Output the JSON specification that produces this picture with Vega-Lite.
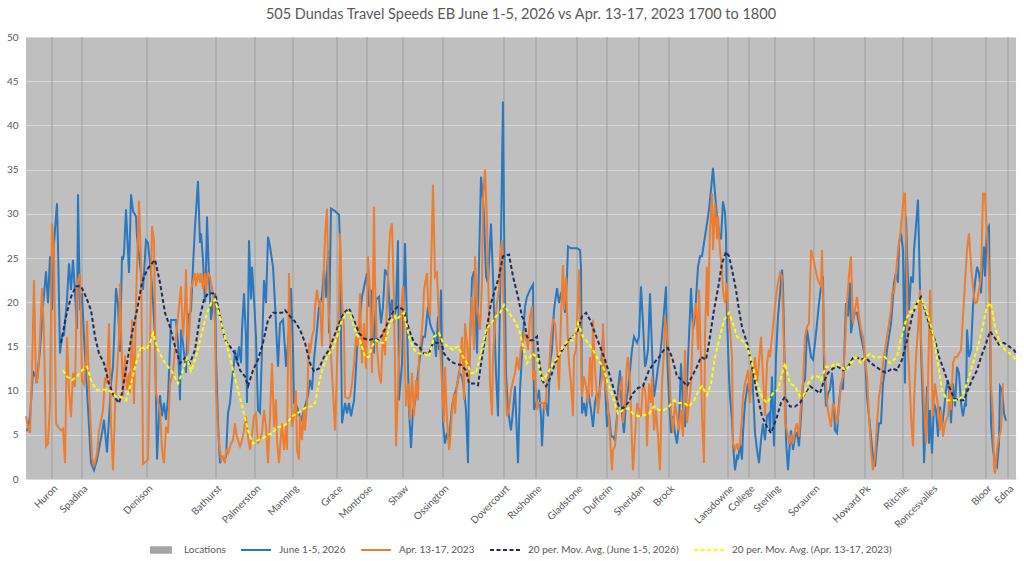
{
  "$schema": "https://vega.github.io/schema/vega-lite/v6.json",
  "width": 990,
  "height": 442,
  "autosize": {"type": "none"},
  "padding": {"left": 26, "top": 37, "right": 8, "bottom": 82},
  "background": "white",
  "title": {
    "text": "505 Dundas Travel Speeds EB June 1-5, 2026 vs Apr. 13-17, 2023 1700 to 1800",
    "font": "Lato", "fontSize": 14.5, "fontWeight": "normal", "color": "#595959",
    "anchor": "middle", "offset": 10
  },
  "config": {
    "font": "Lato",
    "view": {"fill": "#bfbfbf", "stroke": null},
    "axis": {"labelFont": "Lato", "labelColor": "#595959", "labelFontSize": 10}
  },
  "datasets": {
    "locations": [
      {"d": 26, "name": "Huron"}, {"d": 56, "name": "Spadina"}, {"d": 121, "name": "Denison"},
      {"d": 190, "name": "Bathurst"}, {"d": 229, "name": "Palmerston"}, {"d": 267, "name": "Manning"},
      {"d": 311, "name": "Grace"}, {"d": 341, "name": "Montrose"}, {"d": 377, "name": "Shaw"},
      {"d": 417, "name": "Ossington"}, {"d": 478, "name": "Dovercourt"}, {"d": 510, "name": "Rusholme"},
      {"d": 551, "name": "Gladstone"}, {"d": 581, "name": "Dufferin"}, {"d": 613, "name": "Sheridan"},
      {"d": 643, "name": "Brock"}, {"d": 702, "name": "Lansdowne"}, {"d": 723, "name": "College"},
      {"d": 749, "name": "Sterling"}, {"d": 788, "name": "Sorauren"}, {"d": 839, "name": "Howard Pk"},
      {"d": 877, "name": "Ritchie"}, {"d": 906, "name": "Roncesvalles"}, {"d": 960, "name": "Bloor"},
      {"d": 982, "name": "Edna"}
    ],
    "june": [
      {"d":1,"v":5.4},{"d":4,"v":7},{"d":7,"v":12.2},{"d":11,"v":11.2},{"d":14,"v":14.6},{"d":17,"v":19.5},{"d":20,"v":23.5},{"d":22,"v":19.9},{"d":24,"v":25.2},{"d":26,"v":19.1},{"d":28,"v":26.7},{"d":31,"v":31.2},{"d":32,"v":26.3},{"d":34,"v":14.2},{"d":36,"v":16.1},{"d":38,"v":16.3},{"d":41,"v":20.3},{"d":43,"v":24.4},{"d":45,"v":21.4},{"d":47,"v":24.8},{"d":49,"v":21},{"d":51,"v":17},{"d":52,"v":32.2},{"d":54,"v":19.1},{"d":56,"v":21},{"d":58,"v":16},{"d":60,"v":12},{"d":62,"v":8},{"d":65,"v":1.8},{"d":68,"v":1.0},{"d":71,"v":2.2},{"d":74,"v":4},{"d":76,"v":5.2},{"d":78,"v":6.7},{"d":81,"v":3.0},{"d":85,"v":10.8},{"d":87,"v":12.7},{"d":90,"v":21.6},{"d":92,"v":19.7},{"d":94,"v":14.4},{"d":96,"v":25.2},{"d":97,"v":24.8},{"d":98,"v":25.5},{"d":100,"v":30.5},{"d":103,"v":23.3},{"d":105,"v":32.2},{"d":107,"v":30.3},{"d":110,"v":29.7},{"d":111,"v":27.4},{"d":115,"v":23.3},{"d":117,"v":21.4},{"d":120,"v":27},{"d":122,"v":26.7},{"d":125,"v":23.3},{"d":127,"v":20},{"d":129,"v":16},{"d":131,"v":2.2},{"d":134,"v":9.5},{"d":136,"v":7.1},{"d":138,"v":8.6},{"d":140,"v":6.7},{"d":142,"v":9.1},{"d":145,"v":18},{"d":147,"v":18},{"d":150,"v":18},{"d":152,"v":15.4},{"d":154,"v":8.9},{"d":155,"v":16.9},{"d":157,"v":15.4},{"d":160,"v":12},{"d":162,"v":18.4},{"d":165,"v":19},{"d":167,"v":24},{"d":169,"v":28.6},{"d":172,"v":33.7},{"d":174,"v":26.7},{"d":175,"v":27.8},{"d":177,"v":24.8},{"d":179,"v":20},{"d":180,"v":23.7},{"d":181,"v":29.7},{"d":183,"v":22.9},{"d":185,"v":18},{"d":187,"v":19.9},{"d":189,"v":21},{"d":190,"v":13.8},{"d":192,"v":6.3},{"d":194,"v":1.8},{"d":196,"v":2.5},{"d":198,"v":2.2},{"d":200,"v":2.5},{"d":202,"v":7.4},{"d":204,"v":8.6},{"d":206,"v":11.2},{"d":208,"v":13.1},{"d":209,"v":14.6},{"d":211,"v":13.1},{"d":213,"v":15},{"d":215,"v":13.1},{"d":216,"v":16.9},{"d":218,"v":21},{"d":220,"v":16},{"d":221,"v":8.6},{"d":223,"v":27},{"d":225,"v":20.3},{"d":226,"v":24},{"d":228,"v":20.3},{"d":230,"v":16.1},{"d":232,"v":7.8},{"d":234,"v":7.5},{"d":236,"v":14.6},{"d":238,"v":22.5},{"d":240,"v":19.9},{"d":242,"v":27.4},{"d":244,"v":26.3},{"d":247,"v":24},{"d":249,"v":19.9},{"d":252,"v":12.7},{"d":254,"v":17.6},{"d":257,"v":18},{"d":259,"v":14.6},{"d":260,"v":12.7},{"d":263,"v":16.9},{"d":265,"v":21.6},{"d":267,"v":14.6},{"d":268,"v":8.6},{"d":271,"v":8.2},{"d":273,"v":7.4},{"d":275,"v":6.5},{"d":278,"v":7.8},{"d":280,"v":8.6},{"d":282,"v":9.5},{"d":284,"v":11.2},{"d":286,"v":10.1},{"d":288,"v":13.5},{"d":291,"v":16.9},{"d":293,"v":19.5},{"d":296,"v":20.6},{"d":298,"v":23.7},{"d":300,"v":20.5},{"d":302,"v":25.9},{"d":303,"v":16.5},{"d":305,"v":30.6},{"d":309,"v":30.3},{"d":313,"v":29.9},{"d":314,"v":26.7},{"d":316,"v":6.3},{"d":319,"v":8.6},{"d":321,"v":7.4},{"d":323,"v":8.6},{"d":325,"v":7.1},{"d":328,"v":8.9},{"d":329,"v":10.5},{"d":331,"v":14.6},{"d":333,"v":17.2},{"d":336,"v":20.6},{"d":339,"v":22.2},{"d":341,"v":23.3},{"d":343,"v":19.5},{"d":345,"v":21.4},{"d":348,"v":14.2},{"d":350,"v":20.3},{"d":353,"v":20.6},{"d":355,"v":17.6},{"d":357,"v":19.5},{"d":359,"v":23.7},{"d":362,"v":22.9},{"d":364,"v":18.4},{"d":366,"v":20.3},{"d":368,"v":17.6},{"d":370,"v":19.5},{"d":372,"v":27},{"d":373,"v":8.9},{"d":376,"v":13.1},{"d":379,"v":26.7},{"d":381,"v":17.6},{"d":383,"v":7.8},{"d":385,"v":3.5},{"d":387,"v":7.8},{"d":389,"v":8.6},{"d":392,"v":12},{"d":394,"v":13.8},{"d":397,"v":16.1},{"d":399,"v":16.1},{"d":402,"v":19.5},{"d":404,"v":17.6},{"d":406,"v":16.9},{"d":408,"v":16.5},{"d":410,"v":13.8},{"d":412,"v":18.4},{"d":413,"v":14.6},{"d":415,"v":21.4},{"d":417,"v":6.3},{"d":419,"v":4},{"d":421,"v":5.2},{"d":423,"v":4.4},{"d":426,"v":8.2},{"d":428,"v":9.3},{"d":431,"v":10.5},{"d":433,"v":12},{"d":436,"v":11.6},{"d":438,"v":10.1},{"d":440,"v":7.8},{"d":442,"v":1.8},{"d":443,"v":11.6},{"d":446,"v":22.7},{"d":448,"v":23.5},{"d":450,"v":17.6},{"d":451,"v":14.2},{"d":453,"v":24.4},{"d":455,"v":34.2},{"d":457,"v":31.6},{"d":458,"v":29.7},{"d":460,"v":22.9},{"d":462,"v":22.2},{"d":465,"v":28.9},{"d":467,"v":22.9},{"d":470,"v":12},{"d":472,"v":7.1},{"d":474,"v":20},{"d":477,"v":42.7},{"d":478,"v":28.9},{"d":480,"v":12},{"d":482,"v":7.8},{"d":485,"v":5.5},{"d":487,"v":7.8},{"d":489,"v":10.5},{"d":492,"v":1.8},{"d":494,"v":10.1},{"d":497,"v":16.1},{"d":499,"v":19.5},{"d":501,"v":20.6},{"d":504,"v":21.4},{"d":507,"v":22},{"d":508,"v":7.8},{"d":511,"v":8.9},{"d":513,"v":10.1},{"d":515,"v":7.1},{"d":516,"v":3.7},{"d":518,"v":8.6},{"d":520,"v":8.6},{"d":522,"v":7.1},{"d":524,"v":13.1},{"d":526,"v":14.6},{"d":528,"v":19.1},{"d":531,"v":21.6},{"d":533,"v":19.9},{"d":535,"v":21},{"d":537,"v":21.4},{"d":539,"v":18.8},{"d":541,"v":22.9},{"d":542,"v":26.3},{"d":545,"v":26.1},{"d":547,"v":26.1},{"d":551,"v":26.1},{"d":554,"v":25.9},{"d":555,"v":24},{"d":556,"v":7.4},{"d":558,"v":8.6},{"d":560,"v":7.1},{"d":562,"v":10.1},{"d":565,"v":7.8},{"d":567,"v":5.9},{"d":569,"v":8.6},{"d":571,"v":9.7},{"d":573,"v":8.9},{"d":575,"v":12.7},{"d":577,"v":16.1},{"d":579,"v":10.8},{"d":581,"v":5.9},{"d":583,"v":7.4},{"d":585,"v":4.8},{"d":587,"v":4.8},{"d":589,"v":4.4},{"d":591,"v":7.1},{"d":592,"v":10.1},{"d":594,"v":12.3},{"d":596,"v":7.4},{"d":598,"v":5.2},{"d":600,"v":8.6},{"d":602,"v":10.1},{"d":604,"v":12.3},{"d":606,"v":14.6},{"d":608,"v":16.1},{"d":611,"v":15.4},{"d":613,"v":16.1},{"d":615,"v":21.8},{"d":617,"v":17.6},{"d":619,"v":12.7},{"d":620,"v":13.1},{"d":622,"v":14.6},{"d":624,"v":21},{"d":626,"v":14.6},{"d":628,"v":9.3},{"d":630,"v":10.8},{"d":632,"v":12.7},{"d":634,"v":13.8},{"d":636,"v":16.1},{"d":639,"v":20.3},{"d":640,"v":21.8},{"d":641,"v":14.6},{"d":643,"v":8.9},{"d":645,"v":5.2},{"d":647,"v":7.1},{"d":649,"v":5.2},{"d":651,"v":4},{"d":653,"v":6.3},{"d":655,"v":13.1},{"d":657,"v":8.2},{"d":659,"v":5.9},{"d":661,"v":10.8},{"d":663,"v":16.1},{"d":665,"v":21.6},{"d":667,"v":16.9},{"d":669,"v":18.4},{"d":671,"v":22.2},{"d":672,"v":24},{"d":674,"v":25.2},{"d":676,"v":25.2},{"d":678,"v":26.7},{"d":681,"v":28.9},{"d":683,"v":30.5},{"d":685,"v":32.7},{"d":687,"v":35.2},{"d":689,"v":32.3},{"d":691,"v":29.7},{"d":693,"v":27.8},{"d":695,"v":27.1},{"d":697,"v":31.4},{"d":699,"v":30.1},{"d":700,"v":27.8},{"d":701,"v":18.4},{"d":703,"v":11.6},{"d":704,"v":9.3},{"d":706,"v":6.7},{"d":707,"v":4},{"d":709,"v":1},{"d":711,"v":2.5},{"d":712,"v":2.2},{"d":714,"v":4},{"d":716,"v":2.2},{"d":717,"v":5.2},{"d":719,"v":8.6},{"d":721,"v":10.1},{"d":722,"v":10.8},{"d":724,"v":9.3},{"d":726,"v":12.7},{"d":727,"v":10.1},{"d":729,"v":5.2},{"d":731,"v":3.3},{"d":733,"v":1.8},{"d":735,"v":4.4},{"d":737,"v":6.3},{"d":739,"v":4.4},{"d":741,"v":7.1},{"d":743,"v":7.4},{"d":744,"v":5.5},{"d":746,"v":11.6},{"d":748,"v":3.7},{"d":750,"v":13.8},{"d":752,"v":18.4},{"d":754,"v":21},{"d":756,"v":23.7},{"d":757,"v":21.8},{"d":759,"v":10.8},{"d":760,"v":4.4},{"d":762,"v":1},{"d":764,"v":4.4},{"d":765,"v":5.5},{"d":767,"v":3.3},{"d":769,"v":4.8},{"d":771,"v":5.2},{"d":773,"v":3.7},{"d":775,"v":7.1},{"d":777,"v":10.8},{"d":779,"v":11.2},{"d":781,"v":16.9},{"d":783,"v":15.4},{"d":785,"v":13.8},{"d":787,"v":13.5},{"d":789,"v":15.4},{"d":791,"v":17.6},{"d":793,"v":19.9},{"d":795,"v":21.8},{"d":797,"v":22.9},{"d":798,"v":12.7},{"d":800,"v":8.2},{"d":802,"v":9.7},{"d":804,"v":10.1},{"d":806,"v":12},{"d":807,"v":10.8},{"d":809,"v":5.5},{"d":811,"v":5.2},{"d":813,"v":8.6},{"d":815,"v":10.8},{"d":817,"v":10.1},{"d":819,"v":16.5},{"d":820,"v":19.9},{"d":822,"v":18.4},{"d":824,"v":22.2},{"d":825,"v":16.5},{"d":827,"v":18},{"d":829,"v":18.8},{"d":831,"v":18.8},{"d":833,"v":17.6},{"d":835,"v":16.1},{"d":837,"v":15},{"d":839,"v":13.8},{"d":841,"v":9.3},{"d":843,"v":7.1},{"d":845,"v":4.8},{"d":847,"v":2.5},{"d":849,"v":1.4},{"d":851,"v":4},{"d":853,"v":6.3},{"d":855,"v":6.3},{"d":857,"v":10.8},{"d":859,"v":12.3},{"d":861,"v":14.6},{"d":863,"v":16.1},{"d":865,"v":17.6},{"d":866,"v":19},{"d":868,"v":22.2},{"d":870,"v":23.3},{"d":872,"v":22.2},{"d":873,"v":26.7},{"d":875,"v":27.8},{"d":877,"v":25.9},{"d":879,"v":10.8},{"d":880,"v":29.7},{"d":881,"v":25.9},{"d":883,"v":19.1},{"d":885,"v":22.9},{"d":887,"v":22.2},{"d":888,"v":25.9},{"d":890,"v":28.6},{"d":892,"v":31.6},{"d":894,"v":21.4},{"d":895,"v":14.6},{"d":897,"v":7.8},{"d":898,"v":1.8},{"d":900,"v":7.1},{"d":901,"v":10.5},{"d":903,"v":4},{"d":904,"v":7.8},{"d":906,"v":2.9},{"d":908,"v":8.6},{"d":910,"v":7.8},{"d":912,"v":4.8},{"d":914,"v":8.2},{"d":916,"v":5.9},{"d":918,"v":7.8},{"d":920,"v":10.1},{"d":922,"v":11.2},{"d":924,"v":8.6},{"d":925,"v":6.3},{"d":927,"v":10.8},{"d":929,"v":8.2},{"d":931,"v":12.7},{"d":933,"v":12},{"d":935,"v":8.6},{"d":937,"v":7.1},{"d":939,"v":8.6},{"d":940,"v":8.2},{"d":941,"v":16.9},{"d":943,"v":13.8},{"d":945,"v":14.6},{"d":947,"v":19.5},{"d":949,"v":22.2},{"d":951,"v":24},{"d":953,"v":23.3},{"d":955,"v":21},{"d":957,"v":24.8},{"d":958,"v":26.3},{"d":959,"v":22.9},{"d":961,"v":28.2},{"d":963,"v":28.6},{"d":964,"v":18.4},{"d":965,"v":6.3},{"d":967,"v":3.3},{"d":969,"v":1.8},{"d":971,"v":1.4},{"d":973,"v":4},{"d":974,"v":10.5},{"d":976,"v":10.1},{"d":978,"v":7.4},{"d":980,"v":6.6}
    ],
    "april": [
      {"d":0,"v":7.1},{"d":2,"v":5.9},{"d":4,"v":5.2},{"d":6,"v":12},{"d":8,"v":22.5},{"d":10,"v":10.8},{"d":12,"v":11.6},{"d":14,"v":16},{"d":16,"v":21.6},{"d":18,"v":16.5},{"d":20,"v":3.7},{"d":22,"v":4},{"d":24,"v":8.6},{"d":26,"v":28.9},{"d":28,"v":25.9},{"d":30,"v":6.3},{"d":32,"v":5.9},{"d":35,"v":5.5},{"d":37,"v":5.7},{"d":39,"v":1.8},{"d":41,"v":16.1},{"d":43,"v":10},{"d":45,"v":7},{"d":47,"v":12},{"d":49,"v":10.4},{"d":51,"v":22.1},{"d":54,"v":23.2},{"d":56,"v":11.1},{"d":58,"v":10.7},{"d":60,"v":14},{"d":61,"v":17.9},{"d":63,"v":10.4},{"d":66,"v":2.5},{"d":68,"v":1.4},{"d":71,"v":2.9},{"d":73,"v":5.5},{"d":75,"v":6.6},{"d":77,"v":7.8},{"d":79,"v":11.5},{"d":81,"v":10.8},{"d":83,"v":17.6},{"d":85,"v":6.2},{"d":87,"v":1},{"d":89,"v":8},{"d":91,"v":12.2},{"d":93,"v":16},{"d":94,"v":22.1},{"d":96,"v":13.1},{"d":97,"v":9.3},{"d":99,"v":14},{"d":101,"v":10.1},{"d":103,"v":12},{"d":104,"v":9.7},{"d":106,"v":18},{"d":108,"v":8.5},{"d":110,"v":20},{"d":113,"v":31.5},{"d":115,"v":24.4},{"d":116,"v":15},{"d":117,"v":1.7},{"d":120,"v":2},{"d":122,"v":2.2},{"d":126,"v":28.6},{"d":128,"v":27},{"d":130,"v":9.7},{"d":134,"v":7.8},{"d":136,"v":3.3},{"d":138,"v":1.8},{"d":140,"v":5.9},{"d":142,"v":5.2},{"d":144,"v":10.8},{"d":147,"v":12},{"d":150,"v":16.1},{"d":152,"v":18.4},{"d":155,"v":21.8},{"d":157,"v":16.1},{"d":159,"v":19.5},{"d":160,"v":23.7},{"d":162,"v":14.2},{"d":164,"v":18},{"d":165,"v":21.4},{"d":169,"v":23.3},{"d":170,"v":21.8},{"d":172,"v":23.3},{"d":174,"v":22.2},{"d":175,"v":23.3},{"d":177,"v":21.5},{"d":179,"v":23.3},{"d":180,"v":21},{"d":182,"v":23.3},{"d":184,"v":22.9},{"d":185,"v":22.2},{"d":187,"v":21},{"d":189,"v":17.6},{"d":190,"v":10.1},{"d":192,"v":5.2},{"d":194,"v":3.3},{"d":195,"v":2.2},{"d":197,"v":2.5},{"d":199,"v":1.8},{"d":200,"v":3.3},{"d":202,"v":2.9},{"d":205,"v":4},{"d":207,"v":4.4},{"d":209,"v":6.3},{"d":210,"v":5.2},{"d":212,"v":4.4},{"d":214,"v":3.7},{"d":216,"v":4.4},{"d":218,"v":5.5},{"d":220,"v":7.1},{"d":222,"v":4.8},{"d":224,"v":3.3},{"d":226,"v":5},{"d":228,"v":7.1},{"d":230,"v":7.4},{"d":232,"v":4},{"d":234,"v":4.5},{"d":236,"v":5.2},{"d":238,"v":7.8},{"d":240,"v":5.9},{"d":242,"v":1.8},{"d":244,"v":7.1},{"d":246,"v":13.1},{"d":248,"v":5.9},{"d":250,"v":9},{"d":251,"v":4.4},{"d":253,"v":1.8},{"d":255,"v":5},{"d":256,"v":6.3},{"d":258,"v":3.3},{"d":260,"v":6},{"d":261,"v":3.3},{"d":263,"v":23.3},{"d":264,"v":17},{"d":266,"v":5.9},{"d":268,"v":7.1},{"d":270,"v":10},{"d":271,"v":3.3},{"d":273,"v":2.2},{"d":274,"v":7.1},{"d":276,"v":4.4},{"d":278,"v":8},{"d":279,"v":5.5},{"d":281,"v":8.6},{"d":283,"v":15.4},{"d":284,"v":14.2},{"d":286,"v":16.1},{"d":288,"v":16.9},{"d":289,"v":19.5},{"d":291,"v":21.4},{"d":293,"v":19.5},{"d":294,"v":20.3},{"d":296,"v":15},{"d":298,"v":24},{"d":299,"v":27.4},{"d":301,"v":30.6},{"d":303,"v":18.4},{"d":305,"v":14},{"d":307,"v":10},{"d":309,"v":5.5},{"d":313,"v":19.9},{"d":314,"v":27.8},{"d":316,"v":20},{"d":318,"v":17},{"d":319,"v":9.3},{"d":322,"v":9.1},{"d":324,"v":9.3},{"d":326,"v":10.8},{"d":328,"v":13},{"d":330,"v":16.1},{"d":332,"v":15},{"d":334,"v":21},{"d":336,"v":13.1},{"d":338,"v":17.6},{"d":340,"v":12.5},{"d":342,"v":25.2},{"d":344,"v":21},{"d":346,"v":12},{"d":348,"v":30.8},{"d":349,"v":22.2},{"d":351,"v":15},{"d":353,"v":12},{"d":355,"v":10.8},{"d":357,"v":16.9},{"d":359,"v":14},{"d":361,"v":19.9},{"d":363,"v":25.5},{"d":364,"v":27.8},{"d":366,"v":28.9},{"d":368,"v":20},{"d":369,"v":13.1},{"d":370,"v":3.7},{"d":372,"v":10.1},{"d":375,"v":19.1},{"d":377,"v":21.8},{"d":380,"v":8.2},{"d":382,"v":10.8},{"d":384,"v":6.7},{"d":386,"v":12},{"d":388,"v":7.1},{"d":390,"v":11.2},{"d":392,"v":8.9},{"d":393,"v":13.8},{"d":395,"v":15.7},{"d":397,"v":18.4},{"d":398,"v":21.4},{"d":401,"v":23.3},{"d":402,"v":19.9},{"d":404,"v":18.4},{"d":407,"v":33.3},{"d":409,"v":22.9},{"d":411,"v":23.3},{"d":413,"v":17.6},{"d":416,"v":10.8},{"d":418,"v":6.3},{"d":419,"v":12.7},{"d":421,"v":6.7},{"d":423,"v":3.3},{"d":424,"v":4},{"d":426,"v":7.8},{"d":428,"v":9.7},{"d":429,"v":7.4},{"d":431,"v":10.8},{"d":433,"v":11.6},{"d":434,"v":13.1},{"d":436,"v":16.1},{"d":438,"v":8.9},{"d":439,"v":17.6},{"d":441,"v":15.4},{"d":443,"v":10.8},{"d":444,"v":16.1},{"d":446,"v":20.6},{"d":448,"v":14.6},{"d":449,"v":25.2},{"d":451,"v":19.9},{"d":454,"v":16.9},{"d":456,"v":22.2},{"d":457,"v":31.6},{"d":459,"v":35},{"d":461,"v":28.9},{"d":463,"v":18.4},{"d":464,"v":10.8},{"d":466,"v":7.2},{"d":467,"v":13.8},{"d":469,"v":17.6},{"d":471,"v":19.9},{"d":473,"v":21.4},{"d":474,"v":25.2},{"d":476,"v":27},{"d":477,"v":22.9},{"d":479,"v":12},{"d":481,"v":7.1},{"d":483,"v":7.8},{"d":485,"v":10.1},{"d":489,"v":12},{"d":491,"v":13.8},{"d":493,"v":12.3},{"d":495,"v":15},{"d":496,"v":14.6},{"d":498,"v":16.5},{"d":500,"v":16.1},{"d":502,"v":14.6},{"d":504,"v":18.4},{"d":506,"v":19.5},{"d":507,"v":11.2},{"d":509,"v":12.3},{"d":511,"v":7.8},{"d":513,"v":8.6},{"d":517,"v":8.6},{"d":519,"v":7.8},{"d":521,"v":10.8},{"d":523,"v":12.3},{"d":525,"v":16.1},{"d":527,"v":18},{"d":529,"v":17.6},{"d":531,"v":14.6},{"d":533,"v":10.1},{"d":535,"v":18.4},{"d":537,"v":24.2},{"d":538,"v":19.1},{"d":540,"v":22.9},{"d":542,"v":15},{"d":543,"v":13.1},{"d":545,"v":10.8},{"d":547,"v":7.1},{"d":548,"v":13.8},{"d":550,"v":14.6},{"d":552,"v":20.3},{"d":553,"v":23.7},{"d":556,"v":9.3},{"d":558,"v":11.6},{"d":560,"v":10.5},{"d":562,"v":8.6},{"d":564,"v":13.8},{"d":566,"v":9.3},{"d":567,"v":18},{"d":569,"v":12.3},{"d":571,"v":9.3},{"d":572,"v":7.4},{"d":574,"v":10.1},{"d":576,"v":11.6},{"d":577,"v":17.6},{"d":579,"v":10.8},{"d":582,"v":8.6},{"d":584,"v":4.8},{"d":586,"v":1},{"d":587,"v":3.3},{"d":589,"v":3.7},{"d":591,"v":6.3},{"d":592,"v":8.6},{"d":596,"v":11.6},{"d":597,"v":6.3},{"d":599,"v":8.6},{"d":601,"v":13.1},{"d":602,"v":13.8},{"d":604,"v":10.8},{"d":606,"v":4},{"d":607,"v":1},{"d":609,"v":4.8},{"d":611,"v":8.6},{"d":615,"v":7.1},{"d":617,"v":10.8},{"d":619,"v":10.1},{"d":620,"v":8.6},{"d":621,"v":3.7},{"d":623,"v":10.8},{"d":625,"v":8.6},{"d":626,"v":11.6},{"d":628,"v":5.5},{"d":630,"v":7.8},{"d":632,"v":4.8},{"d":634,"v":1},{"d":636,"v":10.8},{"d":638,"v":14.6},{"d":639,"v":18.4},{"d":641,"v":16.1},{"d":643,"v":13.8},{"d":645,"v":7.8},{"d":647,"v":5.2},{"d":649,"v":8.6},{"d":651,"v":7.1},{"d":653,"v":5.5},{"d":655,"v":7.8},{"d":657,"v":4.8},{"d":659,"v":14.6},{"d":661,"v":6.3},{"d":665,"v":10.8},{"d":667,"v":17.6},{"d":670,"v":19.9},{"d":672,"v":14.6},{"d":673,"v":21.4},{"d":675,"v":13.1},{"d":676,"v":7.1},{"d":678,"v":1.8},{"d":679,"v":16.1},{"d":681,"v":24},{"d":682,"v":18.4},{"d":684,"v":28.2},{"d":686,"v":32.3},{"d":687,"v":25.9},{"d":689,"v":31.2},{"d":691,"v":27.1},{"d":692,"v":29.7},{"d":694,"v":25.9},{"d":696,"v":23.7},{"d":697,"v":21.4},{"d":699,"v":19.9},{"d":701,"v":22.2},{"d":702,"v":19.1},{"d":704,"v":16.9},{"d":706,"v":13.8},{"d":707,"v":4},{"d":709,"v":3.3},{"d":711,"v":4},{"d":712,"v":3.3},{"d":714,"v":4},{"d":716,"v":7.1},{"d":717,"v":9.3},{"d":719,"v":10.8},{"d":722,"v":12.3},{"d":724,"v":8.6},{"d":726,"v":13.1},{"d":727,"v":11.6},{"d":729,"v":13.8},{"d":731,"v":10.8},{"d":733,"v":13.1},{"d":735,"v":16.1},{"d":737,"v":11.6},{"d":739,"v":7.1},{"d":741,"v":13.1},{"d":743,"v":14.6},{"d":744,"v":13.8},{"d":746,"v":16.1},{"d":748,"v":18.4},{"d":750,"v":20.6},{"d":752,"v":22.2},{"d":754,"v":23.3},{"d":756,"v":22.9},{"d":758,"v":14.6},{"d":759,"v":6.3},{"d":761,"v":5.5},{"d":763,"v":4},{"d":765,"v":4.8},{"d":767,"v":4},{"d":769,"v":5.5},{"d":771,"v":6.3},{"d":773,"v":4.8},{"d":775,"v":8.6},{"d":777,"v":10.8},{"d":779,"v":16.1},{"d":781,"v":17.2},{"d":783,"v":17.6},{"d":785,"v":25.9},{"d":787,"v":25.2},{"d":789,"v":24},{"d":791,"v":22.9},{"d":793,"v":22.2},{"d":795,"v":21.8},{"d":796,"v":25.9},{"d":798,"v":14.6},{"d":800,"v":10.8},{"d":801,"v":8.6},{"d":803,"v":7.1},{"d":805,"v":5.9},{"d":807,"v":8.6},{"d":809,"v":7.8},{"d":811,"v":6.3},{"d":813,"v":8},{"d":815,"v":10.8},{"d":817,"v":11.6},{"d":819,"v":15},{"d":821,"v":20},{"d":823,"v":23},{"d":825,"v":25.2},{"d":827,"v":17.6},{"d":829,"v":19.1},{"d":831,"v":20.6},{"d":833,"v":18.4},{"d":835,"v":16.9},{"d":837,"v":16.1},{"d":839,"v":13.8},{"d":841,"v":11.6},{"d":843,"v":7.1},{"d":845,"v":3.3},{"d":847,"v":1},{"d":849,"v":2.5},{"d":851,"v":6.3},{"d":853,"v":9.3},{"d":855,"v":10.8},{"d":857,"v":13.1},{"d":859,"v":14.6},{"d":861,"v":16.1},{"d":863,"v":17.6},{"d":865,"v":19.1},{"d":866,"v":21},{"d":868,"v":21},{"d":870,"v":23.3},{"d":872,"v":25.9},{"d":874,"v":27.4},{"d":876,"v":29.7},{"d":878,"v":32.3},{"d":879,"v":32.3},{"d":881,"v":22.2},{"d":882,"v":14.6},{"d":884,"v":10.1},{"d":885,"v":7.1},{"d":887,"v":3.7},{"d":888,"v":8.6},{"d":890,"v":13.8},{"d":892,"v":16.9},{"d":894,"v":21.4},{"d":895,"v":16.1},{"d":897,"v":10.8},{"d":899,"v":6.3},{"d":900,"v":4},{"d":902,"v":10.8},{"d":904,"v":21.4},{"d":905,"v":16.9},{"d":907,"v":7.1},{"d":909,"v":10.8},{"d":912,"v":8.2},{"d":914,"v":5.5},{"d":915,"v":7.8},{"d":917,"v":4.8},{"d":919,"v":6.3},{"d":922,"v":7.1},{"d":924,"v":10.8},{"d":925,"v":7.8},{"d":927,"v":13.1},{"d":929,"v":13.8},{"d":931,"v":13.8},{"d":933,"v":14.2},{"d":935,"v":14.6},{"d":937,"v":18.4},{"d":939,"v":22.2},{"d":941,"v":25.9},{"d":943,"v":27.8},{"d":944,"v":25.9},{"d":946,"v":22.9},{"d":948,"v":20.6},{"d":949,"v":19.9},{"d":951,"v":20},{"d":953,"v":21.4},{"d":955,"v":22.9},{"d":957,"v":32.3},{"d":959,"v":32.3},{"d":960,"v":29.7},{"d":962,"v":25.9},{"d":964,"v":19.9},{"d":965,"v":10.8},{"d":967,"v":7.1},{"d":968,"v":1.4},{"d":969,"v":0.6},{"d":971,"v":3.3},{"d":973,"v":4.8},{"d":975,"v":5.5},{"d":977,"v":10.8}
    ],
    "maJune": [
      {"d":35,"v":15.4},{"d":40,"v":18.4},{"d":45,"v":20.6},{"d":50,"v":21.8},{"d":55,"v":21.8},{"d":60,"v":20.6},{"d":65,"v":19.1},{"d":69,"v":16.1},{"d":73,"v":14.2},{"d":78,"v":13.1},{"d":83,"v":10.8},{"d":88,"v":9.3},{"d":93,"v":8.6},{"d":96,"v":9.7},{"d":101,"v":13.1},{"d":106,"v":16.5},{"d":111,"v":19.1},{"d":116,"v":22.2},{"d":121,"v":23.7},{"d":126,"v":24.4},{"d":129,"v":24.8},{"d":134,"v":22.2},{"d":139,"v":18.8},{"d":144,"v":17.2},{"d":149,"v":15},{"d":154,"v":13.1},{"d":159,"v":13.7},{"d":164,"v":13.1},{"d":169,"v":14.6},{"d":174,"v":18.4},{"d":178,"v":20.3},{"d":182,"v":21},{"d":187,"v":21},{"d":190,"v":20.6},{"d":194,"v":18.4},{"d":199,"v":15.7},{"d":204,"v":15},{"d":209,"v":14.2},{"d":214,"v":12.3},{"d":219,"v":11.6},{"d":222,"v":10.5},{"d":227,"v":12.3},{"d":232,"v":13.5},{"d":237,"v":15.4},{"d":242,"v":18},{"d":247,"v":18.8},{"d":251,"v":18.8},{"d":256,"v":18.8},{"d":259,"v":19.1},{"d":264,"v":18.4},{"d":269,"v":17.8},{"d":274,"v":16.9},{"d":279,"v":15.4},{"d":284,"v":13.1},{"d":288,"v":12.2},{"d":293,"v":12.5},{"d":298,"v":13.8},{"d":303,"v":14.6},{"d":308,"v":16.1},{"d":313,"v":17.6},{"d":318,"v":18.8},{"d":323,"v":19.3},{"d":328,"v":18},{"d":333,"v":16.5},{"d":338,"v":15.9},{"d":343,"v":15.7},{"d":348,"v":15.9},{"d":353,"v":15.7},{"d":358,"v":16.7},{"d":363,"v":18},{"d":368,"v":19.1},{"d":372,"v":19.5},{"d":378,"v":19.1},{"d":383,"v":16.9},{"d":388,"v":15.4},{"d":393,"v":15},{"d":398,"v":14.2},{"d":403,"v":14.2},{"d":407,"v":15.4},{"d":412,"v":15.4},{"d":415,"v":15.7},{"d":418,"v":14.2},{"d":423,"v":13.5},{"d":428,"v":13.1},{"d":435,"v":12.9},{"d":440,"v":12.3},{"d":443,"v":10.8},{"d":448,"v":10.8},{"d":452,"v":10.6},{"d":456,"v":13.8},{"d":461,"v":17.2},{"d":465,"v":19.9},{"d":469,"v":21.4},{"d":473,"v":22.9},{"d":477,"v":25.2},{"d":483,"v":25.4},{"d":487,"v":22.9},{"d":492,"v":20.6},{"d":496,"v":18.4},{"d":498,"v":18},{"d":501,"v":16.1},{"d":504,"v":15.7},{"d":507,"v":15.7},{"d":511,"v":16.1},{"d":513,"v":13.5},{"d":516,"v":11.2},{"d":520,"v":10.5},{"d":525,"v":11.6},{"d":529,"v":13.1},{"d":534,"v":14.2},{"d":541,"v":15.4},{"d":546,"v":16.1},{"d":551,"v":16.5},{"d":556,"v":18.4},{"d":560,"v":18.8},{"d":564,"v":18},{"d":569,"v":16.5},{"d":574,"v":15},{"d":579,"v":13.5},{"d":584,"v":11.6},{"d":589,"v":9.7},{"d":593,"v":8.2},{"d":597,"v":8},{"d":602,"v":8.6},{"d":607,"v":9.7},{"d":612,"v":10.3},{"d":617,"v":10.5},{"d":623,"v":12.3},{"d":628,"v":13.1},{"d":633,"v":13.8},{"d":638,"v":14.6},{"d":642,"v":14.8},{"d":646,"v":13.8},{"d":651,"v":11.6},{"d":656,"v":11.2},{"d":661,"v":10.5},{"d":666,"v":11.6},{"d":671,"v":12.7},{"d":675,"v":13.8},{"d":680,"v":13.5},{"d":683,"v":15.4},{"d":688,"v":19.1},{"d":693,"v":22.2},{"d":696,"v":24.4},{"d":700,"v":25.7},{"d":703,"v":25.2},{"d":706,"v":23.7},{"d":710,"v":21.4},{"d":713,"v":19.1},{"d":716,"v":17.2},{"d":721,"v":15.4},{"d":726,"v":12.7},{"d":731,"v":9.7},{"d":736,"v":7.1},{"d":741,"v":5.9},{"d":745,"v":5.2},{"d":750,"v":6.7},{"d":755,"v":8.6},{"d":759,"v":9.3},{"d":764,"v":8.2},{"d":769,"v":8.2},{"d":774,"v":8.6},{"d":779,"v":9.7},{"d":784,"v":10.5},{"d":789,"v":10.1},{"d":794,"v":9.7},{"d":797,"v":10.8},{"d":802,"v":12},{"d":807,"v":12.5},{"d":812,"v":12.7},{"d":817,"v":12.3},{"d":822,"v":12.7},{"d":827,"v":13.7},{"d":830,"v":13.8},{"d":835,"v":13.5},{"d":840,"v":13.7},{"d":845,"v":13.1},{"d":850,"v":12.7},{"d":855,"v":12.3},{"d":860,"v":12},{"d":866,"v":12.5},{"d":871,"v":12.3},{"d":876,"v":13.5},{"d":881,"v":15.7},{"d":886,"v":18.4},{"d":891,"v":19.9},{"d":895,"v":20.6},{"d":899,"v":19.1},{"d":904,"v":17.2},{"d":909,"v":15.7},{"d":913,"v":13.8},{"d":918,"v":12.3},{"d":923,"v":10.5},{"d":928,"v":9.1},{"d":933,"v":8.9},{"d":938,"v":8.9},{"d":942,"v":10.1},{"d":946,"v":11.2},{"d":951,"v":12.3},{"d":955,"v":13.8},{"d":959,"v":15},{"d":964,"v":16.7},{"d":968,"v":16.1},{"d":973,"v":15.2},{"d":978,"v":15.4},{"d":983,"v":15},{"d":988,"v":14.6},{"d":990,"v":14.2}
    ],
    "maApril": [
      {"d":37,"v":12.3},{"d":41,"v":11.6},{"d":46,"v":11.2},{"d":51,"v":11.6},{"d":56,"v":12.3},{"d":61,"v":12.7},{"d":65,"v":11.2},{"d":70,"v":10.1},{"d":75,"v":10.1},{"d":80,"v":10.1},{"d":85,"v":9.9},{"d":90,"v":9.3},{"d":95,"v":9.3},{"d":100,"v":8.9},{"d":105,"v":10.8},{"d":110,"v":13.1},{"d":115,"v":15},{"d":120,"v":14.6},{"d":124,"v":15.4},{"d":127,"v":16.5},{"d":132,"v":14.6},{"d":137,"v":13.5},{"d":142,"v":12.7},{"d":147,"v":12},{"d":152,"v":10.8},{"d":157,"v":12.3},{"d":161,"v":13.7},{"d":165,"v":12.2},{"d":170,"v":13.8},{"d":175,"v":16.1},{"d":180,"v":18.4},{"d":185,"v":19.9},{"d":189,"v":20.3},{"d":192,"v":19.1},{"d":197,"v":16.9},{"d":202,"v":14.6},{"d":207,"v":12.3},{"d":212,"v":10.1},{"d":217,"v":7.8},{"d":222,"v":5.5},{"d":227,"v":4},{"d":232,"v":4.4},{"d":237,"v":4.6},{"d":242,"v":5},{"d":247,"v":5.2},{"d":251,"v":5.9},{"d":256,"v":5.9},{"d":261,"v":6.3},{"d":266,"v":7.1},{"d":271,"v":7.4},{"d":276,"v":7.8},{"d":281,"v":8.2},{"d":286,"v":8.2},{"d":289,"v":8.6},{"d":293,"v":10.8},{"d":296,"v":12.3},{"d":301,"v":13.8},{"d":306,"v":14.6},{"d":311,"v":16.1},{"d":316,"v":18},{"d":321,"v":18.8},{"d":324,"v":18.8},{"d":329,"v":16.9},{"d":334,"v":15.7},{"d":339,"v":13.8},{"d":343,"v":13.8},{"d":346,"v":15},{"d":350,"v":15.7},{"d":354,"v":15.4},{"d":359,"v":15.4},{"d":364,"v":17.6},{"d":369,"v":18.4},{"d":370,"v":18},{"d":374,"v":18.4},{"d":378,"v":18.8},{"d":383,"v":16.1},{"d":388,"v":14.6},{"d":393,"v":14.2},{"d":398,"v":14.2},{"d":403,"v":13.8},{"d":408,"v":16.1},{"d":413,"v":16.5},{"d":417,"v":15.4},{"d":422,"v":15},{"d":427,"v":14.6},{"d":432,"v":15},{"d":437,"v":13.8},{"d":441,"v":13.1},{"d":445,"v":12},{"d":450,"v":12},{"d":455,"v":14.2},{"d":460,"v":16.9},{"d":465,"v":17.6},{"d":470,"v":18.4},{"d":474,"v":18.8},{"d":478,"v":19.7},{"d":483,"v":18.8},{"d":488,"v":18},{"d":493,"v":16.9},{"d":498,"v":14.6},{"d":501,"v":13.1},{"d":506,"v":14.2},{"d":511,"v":13.8},{"d":515,"v":11.6},{"d":517,"v":11.2},{"d":522,"v":12},{"d":527,"v":13.1},{"d":532,"v":13.8},{"d":537,"v":15},{"d":542,"v":15.7},{"d":547,"v":15.7},{"d":552,"v":17.6},{"d":557,"v":16.1},{"d":562,"v":15.4},{"d":567,"v":14.6},{"d":572,"v":13.5},{"d":577,"v":12.7},{"d":582,"v":10.8},{"d":587,"v":9.3},{"d":592,"v":7.4},{"d":597,"v":7.8},{"d":602,"v":8},{"d":607,"v":7.4},{"d":612,"v":7.1},{"d":617,"v":7.2},{"d":623,"v":7.4},{"d":628,"v":8.2},{"d":633,"v":7.8},{"d":638,"v":7.8},{"d":643,"v":8.2},{"d":648,"v":8.9},{"d":653,"v":8.6},{"d":658,"v":8.6},{"d":663,"v":8.2},{"d":668,"v":8.9},{"d":673,"v":10.1},{"d":676,"v":10.5},{"d":681,"v":9.5},{"d":685,"v":10.8},{"d":689,"v":13.8},{"d":693,"v":15.7},{"d":698,"v":18},{"d":703,"v":18.8},{"d":707,"v":17.6},{"d":711,"v":16.1},{"d":716,"v":15.7},{"d":721,"v":15},{"d":726,"v":13.1},{"d":731,"v":10.8},{"d":736,"v":9.3},{"d":741,"v":8.6},{"d":747,"v":9.7},{"d":752,"v":10.1},{"d":757,"v":12.3},{"d":759,"v":13.1},{"d":764,"v":10.8},{"d":769,"v":10.5},{"d":774,"v":9.3},{"d":777,"v":9.3},{"d":782,"v":10.8},{"d":787,"v":11.6},{"d":792,"v":11.6},{"d":795,"v":11.2},{"d":800,"v":12.7},{"d":805,"v":12.7},{"d":810,"v":13.1},{"d":815,"v":12.7},{"d":820,"v":12.3},{"d":825,"v":13.1},{"d":830,"v":13.8},{"d":835,"v":13.1},{"d":840,"v":13.8},{"d":844,"v":14.2},{"d":849,"v":13.7},{"d":854,"v":13.8},{"d":859,"v":13.8},{"d":864,"v":13.1},{"d":871,"v":13.8},{"d":874,"v":15.4},{"d":879,"v":17.6},{"d":883,"v":18.8},{"d":888,"v":19.1},{"d":893,"v":20.3},{"d":896,"v":20.3},{"d":901,"v":18.8},{"d":906,"v":16.9},{"d":911,"v":13.8},{"d":916,"v":10.1},{"d":921,"v":8.9},{"d":926,"v":8.9},{"d":931,"v":8.9},{"d":936,"v":9.3},{"d":941,"v":10.8},{"d":946,"v":12.7},{"d":951,"v":14.6},{"d":956,"v":16.9},{"d":961,"v":19.5},{"d":965,"v":19.9},{"d":969,"v":17.2},{"d":974,"v":15.4},{"d":979,"v":14.6},{"d":984,"v":14.2},{"d":990,"v":13.5}
    ]
  },
  "layer": [
    {
      "data": {"name": "locations"},
      "mark": {"type": "rule", "strokeWidth": 1.2},
      "encoding": {
        "x": {
          "field": "d", "type": "quantitative",
          "scale": {"domain": [0, 990], "nice": false, "zero": false},
          "axis": {
            "title": null, "grid": false, "domain": false, "ticks": false,
            "values": [26,56,121,190,229,267,311,341,377,417,478,510,551,581,613,643,702,723,749,788,839,877,906,960,982],
            "labelExpr": "['Huron','Spadina','Denison','Bathurst','Palmerston','Manning','Grace','Montrose','Shaw','Ossington','Dovercourt','Rusholme','Gladstone','Dufferin','Sheridan','Brock','Lansdowne','College','Sterling','Sorauren','Howard Pk','Ritchie','Roncesvalles','Bloor','Edna'][indexof([26,56,121,190,229,267,311,341,377,417,478,510,551,581,613,643,702,723,749,788,839,877,906,960,982], datum.value)]",
            "labelAngle": -45, "labelOverlap": false, "labelBound": false, "labelFlush": false,
            "labelPadding": 4, "labelFontSize": 10
          }
        },
        "color": {
          "datum": "Locations", "type": "nominal",
          "scale": {
            "domain": ["Locations", "June 1-5, 2026", "Apr. 13-17, 2023", "20 per. Mov. Avg. (June 1-5, 2026)", "20 per. Mov. Avg. (Apr. 13-17, 2023)"],
            "range": ["#a5a5a5", "#2a78c0", "#ed7d31", "#1f2d5a", "#ffff00"]
          },
          "legend": {
            "title": null, "orient": "none", "legendX": 130, "legendY": 508, "direction": "horizontal",
            "symbolType": "stroke", "symbolSize": 900, "symbolStrokeWidth": 2,
            "labelFont": "Lato", "labelFontSize": 10, "labelColor": "#595959", "labelOffset": 18, "columnPadding": 11,
            "encode": {
              "symbols": {
                "update": {
                  "shape": {"signal": "datum.value === 'Locations' ? 'M-0.73,-0.25H0.73V0.25H-0.73Z' : 'stroke'"},
                  "fill": {"signal": "datum.value === 'Locations' ? '#a5a5a5' : 'transparent'"},
                  "strokeWidth": {"signal": "datum.value === 'Locations' ? 0 : 2"},
                  "strokeDash": {"signal": "indexof(datum.value, 'Mov.') >= 0 ? [4, 2.5] : [1, 0]"}
                }
              }
            }
          }
        }
      }
    },
    {
      "data": {"name": "june"},
      "mark": {"type": "line", "strokeWidth": 2},
      "encoding": {
        "x": {"field": "d", "type": "quantitative"},
        "y": {
          "field": "v", "type": "quantitative",
          "scale": {"domain": [0, 50], "nice": false},
          "axis": {
            "title": null, "values": [0,5,10,15,20,25,30,35,40,45,50],
            "grid": true, "gridColor": "#d9d9d9", "gridWidth": 1,
            "domain": false, "ticks": false, "labelPadding": 8, "labelFontSize": 10
          }
        },
        "color": {"datum": "June 1-5, 2026", "type": "nominal"}
      }
    },
    {
      "data": {"name": "april"},
      "mark": {"type": "line", "strokeWidth": 2},
      "encoding": {
        "x": {"field": "d", "type": "quantitative"},
        "y": {"field": "v", "type": "quantitative"},
        "color": {"datum": "Apr. 13-17, 2023", "type": "nominal"}
      }
    },
    {
      "data": {"name": "maJune"},
      "mark": {"type": "line", "strokeWidth": 2, "strokeDash": [4, 2.5]},
      "encoding": {
        "x": {"field": "d", "type": "quantitative"},
        "y": {"field": "v", "type": "quantitative"},
        "color": {"datum": "20 per. Mov. Avg. (June 1-5, 2026)", "type": "nominal"}
      }
    },
    {
      "data": {"name": "maApril"},
      "mark": {"type": "line", "strokeWidth": 2, "strokeDash": [4, 2.5]},
      "encoding": {
        "x": {"field": "d", "type": "quantitative"},
        "y": {"field": "v", "type": "quantitative"},
        "color": {"datum": "20 per. Mov. Avg. (Apr. 13-17, 2023)", "type": "nominal"}
      }
    }
  ]
}
